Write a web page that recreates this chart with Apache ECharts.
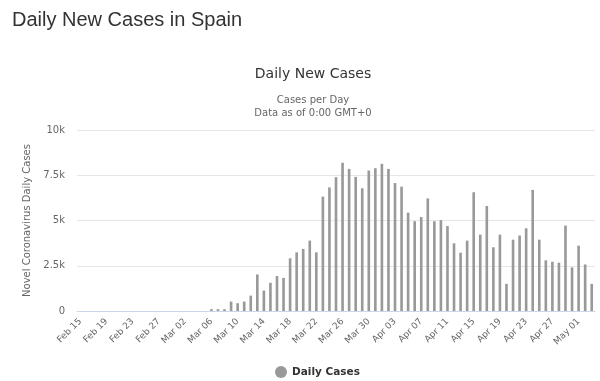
<!DOCTYPE html>
<html>
<head>
<meta charset="utf-8">
<script src="https://cdn.jsdelivr.net/npm/echarts@6/dist/echarts.min.js"></script>
<style>
html,body{margin:0;padding:0;background:#fff;}
#title{position:absolute;left:12px;top:8px;font-family:"Liberation Sans",Arial,sans-serif;font-size:20px;color:#333;}
#chart{position:absolute;left:0;top:0;width:600px;height:381px;}
</style>
</head>
<body>
<div id="chart"></div>
<div id="title">Daily New Cases in Spain</div>
<script>
const categories = ["Feb 15","Feb 16","Feb 17","Feb 18","Feb 19","Feb 20","Feb 21","Feb 22","Feb 23","Feb 24","Feb 25","Feb 26","Feb 27","Feb 28","Feb 29",
"Mar 01","Mar 02","Mar 03","Mar 04","Mar 05","Mar 06","Mar 07","Mar 08","Mar 09","Mar 10","Mar 11","Mar 12","Mar 13","Mar 14","Mar 15","Mar 16","Mar 17","Mar 18","Mar 19","Mar 20","Mar 21","Mar 22","Mar 23","Mar 24","Mar 25","Mar 26","Mar 27","Mar 28","Mar 29","Mar 30","Mar 31",
"Apr 01","Apr 02","Apr 03","Apr 04","Apr 05","Apr 06","Apr 07","Apr 08","Apr 09","Apr 10","Apr 11","Apr 12","Apr 13","Apr 14","Apr 15","Apr 16","Apr 17","Apr 18","Apr 19","Apr 20","Apr 21","Apr 22","Apr 23","Apr 24","Apr 25","Apr 26","Apr 27","Apr 28","Apr 29","Apr 30",
"May 01","May 02","May 03"];
const dailyCases = [0,0,0,0,0,0,0,0,0,0,0,0,0,0,0,
0,0,0,0,0,100,100,100,520,430,520,850,2020,1130,1560,1930,1830,2910,3240,3430,3890,3240,6320,6830,7390,8190,7850,7410,6780,7760,7890,
8130,7850,7070,6870,5430,4960,5190,6220,4960,5020,4690,3740,3220,3890,6560,4220,5800,3520,4220,1500,3940,4170,4570,6690,3940,2800,2720,2670,4720,2410,
3610,2570,1500];
const yTicks = [0, 2500, 5000, 7500, 10000];
const seriesName = "Daily Cases";

const chart = echarts.init(document.getElementById('chart'), null, {renderer:'canvas'});
const small = '"DejaVu Sans", Verdana, sans-serif';
chart.setOption({
  animation:false,
  title:{
    text:'Daily New Cases',
    subtext:'Cases per Day\nData as of 0:00 GMT+0',
    left:308, top:62, textAlign:'center',
    textStyle:{fontFamily:small,fontSize:14,fontWeight:'normal',color:'#333'},
    subtextStyle:{fontFamily:small,fontSize:10,color:'#666',lineHeight:13},
    itemGap:13
  },
  legend:{
    top:361, left:270,
    itemWidth:12, itemHeight:12, icon:'circle', itemGap:10,
    textStyle:{fontFamily:small,fontSize:10.5,fontWeight:'bold',color:'#333'},
    data:[seriesName]
  },
  grid:{left:77,right:5,top:130,bottom:70,containLabel:false},
  xAxis:{
    type:'category', data:categories,
    axisLine:{lineStyle:{color:'#ccd6eb'}},
    axisTick:{show:false},
    axisLabel:{interval:3,rotate:45,fontFamily:small,fontSize:9,color:'#666',margin:9}
  },
  yAxis:{
    type:'value', min:0, max:10000, interval:2500,
    name:'Novel Coronavirus Daily Cases', nameLocation:'middle', nameGap:44,
    nameTextStyle:{fontFamily:small,fontSize:10,color:'#666'},
    axisLabel:{fontFamily:small,fontSize:10,color:'#666',margin:12,
      formatter:v=>yTicks.includes(v)?(v===0?'0':(v/1000)+'k'):''},
    splitLine:{lineStyle:{color:'#e6e6e6'}}
  },
  series:[{
    name:seriesName, type:'bar', data:dailyCases,
    barWidth:'40%', itemStyle:{color:'#999999'}
  }]
});
</script>
</body>
</html>
